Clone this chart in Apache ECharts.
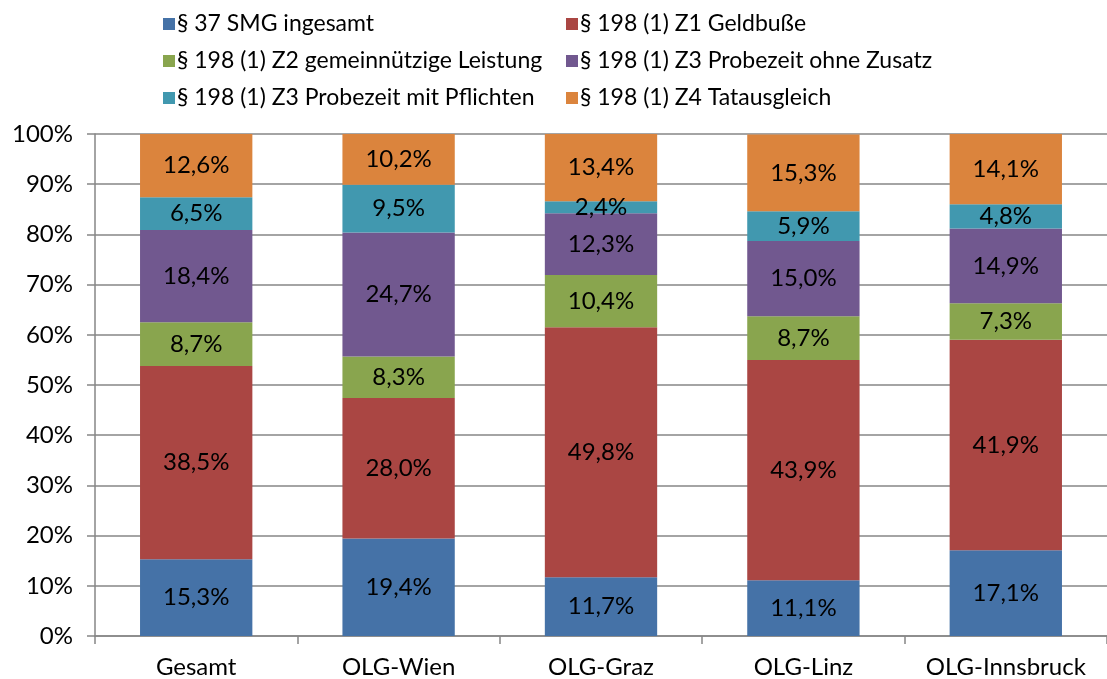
<!DOCTYPE html>
<html><head><meta charset="utf-8">
<script src="https://cdn.jsdelivr.net/npm/echarts@6/dist/echarts.min.js"></script>
<style>html,body{margin:0;padding:0;background:#fff}#c{width:1107px;height:679px}</style>
</head><body><div id="c"></div>
<script>
const categories = ['Gesamt', 'OLG-Wien', 'OLG-Graz', 'OLG-Linz', 'OLG-Innsbruck'];
const seriesNames = ['§ 37 SMG ingesamt', '§ 198 (1) Z1 Geldbuße', '§ 198 (1) Z2 gemeinnützige Leistung', '§ 198 (1) Z3 Probezeit ohne Zusatz', '§ 198 (1) Z3 Probezeit mit Pflichten', '§ 198 (1) Z4 Tatausgleich'];
const smg = [15.3, 19.4, 11.7, 11.1, 17.1];
const geldbusse = [38.5, 28.0, 49.8, 43.9, 41.9];
const gemeinnuetzig = [8.7, 8.3, 10.4, 8.7, 7.3];
const probezeitOhne = [18.4, 24.7, 12.3, 15.0, 14.9];
const probezeitMit = [6.5, 9.5, 2.4, 5.9, 4.8];
const tatausgleich = [12.6, 10.2, 13.4, 15.3, 14.1];
const colors = ['#4572A7', '#AA4643', '#89A54E', '#71588F', '#4198AF', '#DB843D'];
const allData = [smg, geldbusse, gemeinnuetzig, probezeitOhne, probezeitMit, tatausgleich];
const font = 'Lato, "Open Sans", sans-serif';

const chart = echarts.init(document.getElementById('c'));
const legendCommon = {
  orient: 'vertical', top: 7, itemWidth: 12, itemHeight: 12, itemGap: 13,
  icon: 'rect', selectedMode: false,
  textStyle: {fontFamily: font, fontSize: 23, color: '#000', lineHeight: 24, padding: [0, 0, 0, -3]}
};
chart.setOption({
  animation: false,
  color: colors,
  legend: [
    Object.assign({}, legendCommon, {left: 158, data: [seriesNames[0], seriesNames[2], seriesNames[4]]}),
    Object.assign({}, legendCommon, {left: 561, data: [seriesNames[1], seriesNames[3], seriesNames[5]]})
  ],
  grid: {left: 95, top: 134, width: 1019, height: 502},
  xAxis: {
    type: 'category', data: categories,
    axisLine: {lineStyle: {color: '#868686', width: 1.5}},
    axisTick: {show: true, interval: 0, length: 8, lineStyle: {color: '#868686', width: 1.5}},
    axisLabel: {interval: 0, fontFamily: font, fontSize: 24, color: '#000', margin: 19}
  },
  yAxis: {
    type: 'value', min: 0, max: 100, interval: 10,
    axisLine: {show: true, lineStyle: {color: '#868686', width: 1.5}},
    axisTick: {show: true, length: 8, lineStyle: {color: '#868686', width: 1.5}},
    splitLine: {lineStyle: {color: '#868686', width: 1.5}},
    axisLabel: {fontFamily: font, fontSize: 24, color: '#000', margin: 22, formatter: v => v + '%'}
  },
  series: allData.map((d, i) => ({
    name: seriesNames[i], type: 'bar', stack: 'total', data: d, barWidth: '55.5%',
    itemStyle: {color: colors[i]},
    label: {show: true, position: 'inside', fontFamily: font, fontSize: 24, color: '#000',
      formatter: p => p.value.toFixed(1).replace('.', ',') + '%'}
  }))
});
</script></body></html>
